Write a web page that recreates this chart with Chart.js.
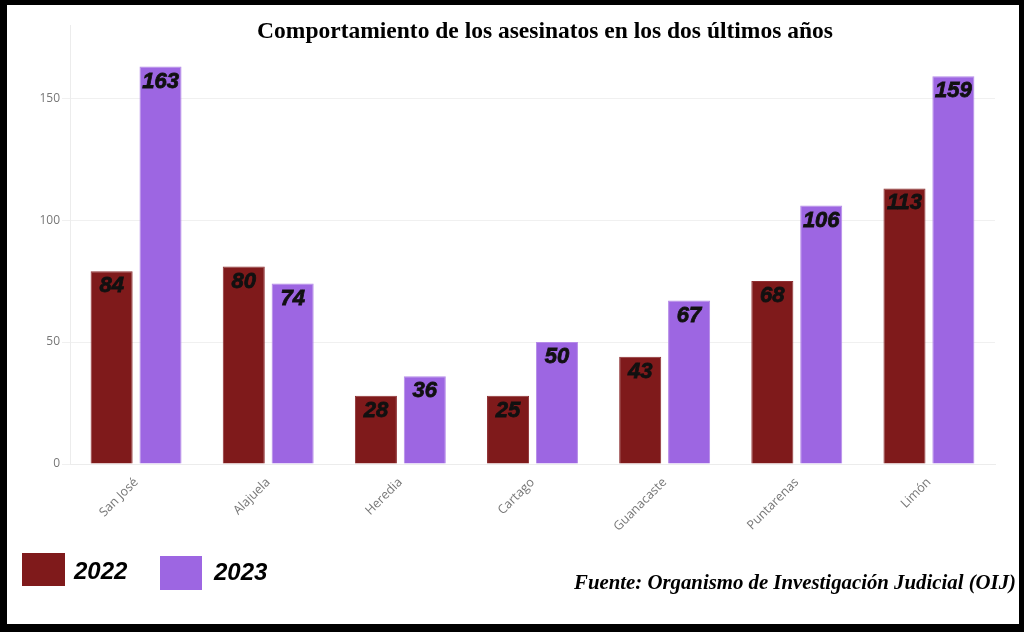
<!DOCTYPE html>
<html>
<head>
<meta charset="utf-8">
<script src="https://cdn.jsdelivr.net/npm/chart.js@4"></script>
<style>
  html, body { margin: 0; padding: 0; background: #000; }
  .frame { position: absolute; left: 7px; top: 5px; width: 1012px; height: 619px; background: #fff; }
</style>
</head>
<body>
<div class="frame"><canvas class="murders"></canvas></div>
<script>
const provinces = ["San José", "Alajuela", "Heredia", "Cartago", "Guanacaste", "Puntarenas", "Limón"];
// bar heights as drawn in the picture
const values2022 = [79, 81, 28, 28, 44, 75, 113];
const values2023 = [163, 74, 36, 50, 67, 106, 159];
// numbers printed on the bars
const labels2022 = ["84", "80", "28", "25", "43", "68", "113"];
const labels2023 = ["163", "74", "36", "50", "67", "106", "159"];
const yTicks = [0, 50, 100, 150];

const titleText = "Comportamiento de los asesinatos en los dos últimos años";
const sourceText = "Fuente: Organismo de Investigación Judicial (OIJ)";

// draws title, bar labels, legend and source line
const decorations = {
  id: "decorations",
  afterDatasetsDraw(chart) {
    const c = chart.ctx;
    c.save();

    c.fillStyle = "#000";
    c.textAlign = "center";
    c.textBaseline = "middle";
    c.font = "bold 23.5px 'Liberation Serif'";
    c.fillText(titleText, 538, 27);

    c.font = "italic bold 22px 'Liberation Sans'";
    c.fillStyle = "#111";
    c.strokeStyle = "#111";
    c.lineWidth = 0.8;
    const texts = [labels2022, labels2023];
    chart.data.datasets.forEach((ds, i) => {
      chart.getDatasetMeta(i).data.forEach((bar, j) => {
        c.fillText(texts[i][j], bar.x, bar.y + 15);
        c.strokeText(texts[i][j], bar.x, bar.y + 15);
      });
    });

    // legend
    const items = [
      { box: [15, 548, 43, 33], textX: 67, textY: 567 },
      { box: [153, 551, 42, 34], textX: 207, textY: 568 },
    ];
    c.textAlign = "left";
    c.font = "italic bold 24px 'Liberation Sans'";
    chart.data.datasets.forEach((ds, i) => {
      const it = items[i];
      c.fillStyle = ds.backgroundColor;
      c.fillRect(...it.box);
      c.fillStyle = "#000";
      c.fillText(ds.label, it.textX, it.textY);
    });

    c.textAlign = "right";
    c.textBaseline = "alphabetic";
    c.font = "italic bold 20.8px 'Liberation Serif'";
    c.fillText(sourceText, 1009, 584);

    c.restore();
  },
};

const ctx = document.querySelector(".murders").getContext("2d");
const chart = new Chart(ctx, {
  type: "bar",
  data: {
    labels: provinces,
    datasets: [
      {
        label: "2022",
        data: values2022,
        backgroundColor: "#7f1a1b",
        borderColor: "#8e3033",
        borderWidth: 1,
      },
      {
        label: "2023",
        data: values2023,
        backgroundColor: "#9d66e2",
        borderColor: "#b58ae8",
        borderWidth: 1,
      },
    ],
  },
  options: {
    responsive: true,
    maintainAspectRatio: false,
    animation: false,
    layout: { padding: { top: 20, right: 24, bottom: 90, left: 0 } },
    datasets: {
      bar: { categoryPercentage: 0.74, barPercentage: 0.86 },
    },
    scales: {
      x: {
        grid: { display: false },
        border: { color: "#ececec" },
        ticks: {
          color: "#777",
          font: { family: "'Open Sans'", size: 12.5 },
          minRotation: 45,
          maxRotation: 45,
        },
        afterFit: (scale) => { scale.height = 70; },
      },
      y: {
        min: 0,
        max: 180,
        grid: { color: "#f0f0f0", tickLength: 8 },
        border: { color: "#ececec" },
        ticks: {
          stepSize: 50,
          padding: 2,
          color: "#777",
          font: { family: "'Open Sans'", size: 12 },
        },
        afterBuildTicks: (scale) => {
          scale.ticks = yTicks.map((v) => ({ value: v }));
        },
        afterFit: (scale) => { scale.width = 63; },
      },
    },
    plugins: {
      legend: { display: false },
      title: { display: false },
      tooltip: { enabled: false },
    },
  },
  plugins: [decorations],
});
</script>
</body>
</html>
